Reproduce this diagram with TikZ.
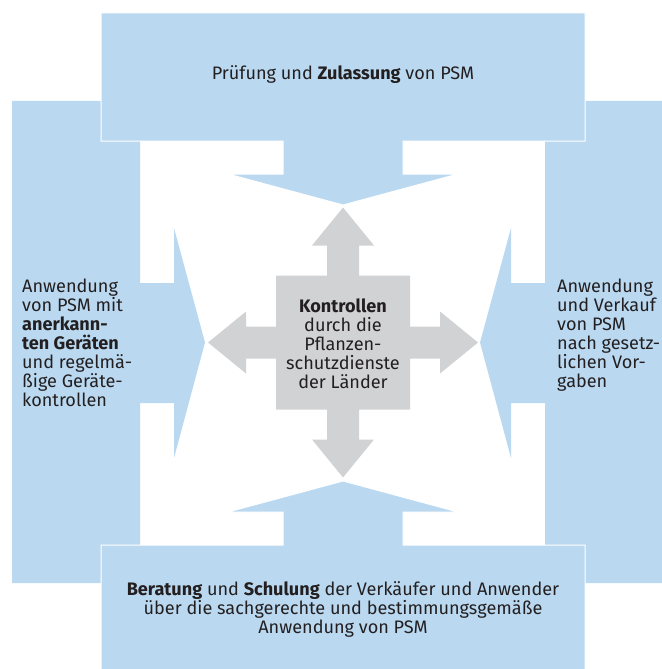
\documentclass[tikz,border=0pt]{standalone}
\usepackage{fontspec}
\setmainfont{Fira Sans}
\definecolor{boxblue}{HTML}{BAD9F1}
\definecolor{crossgray}{HTML}{D1D2D4}
\definecolor{txt}{HTML}{231F20}
\begin{document}
\begin{tikzpicture}[x=1bp,y=-1bp,
  bluebox/.style={fill=boxblue},
  overbox/.style={fill=boxblue,draw=white,line width=1bp},
  lbl/.style={inner sep=0pt,text=txt,font=\fontsize{18.1bp}{19bp}\selectfont}]
\useasboundingbox (0,0) rectangle (662,669);
\clip (0,0) rectangle (662,669);
% left box
\fill[bluebox] (12,101) -- (140,101) -- (140,283) -- (174,283) -- (174,228) -- (205,342.5) -- (174,458) -- (174,403) -- (140,403) -- (140,583) -- (12,583) -- cycle;
% right box
\fill[bluebox] (674,101) -- (545,101) -- (545,283) -- (511,283) -- (511,228) -- (480,342.5) -- (511,458) -- (511,403) -- (545,403) -- (545,583) -- (674,583) -- cycle;
% top box
\filldraw[overbox] (101,13) -- (585,13) -- (585,141) -- (403,141) -- (403,174) -- (458,174) -- (343,205) -- (228,174) -- (283,174) -- (283,141) -- (101,141) -- cycle;
% bottom box
\filldraw[overbox] (101,680) -- (585,680) -- (585,545) -- (403,545) -- (403,512) -- (458,512) -- (343,481) -- (228,512) -- (283,512) -- (283,545) -- (101,545) -- cycle;
% gray cross
\begin{scope}[shift={(343,342.5)}]
\fill[crossgray] (0,-135) -- (31,-97) -- (16,-97) -- (16,-67) -- (67,-67) -- (67,-16) -- (97,-16) -- (97,-31) -- (135,0) -- (97,31) -- (97,16) -- (67,16) -- (67,67) -- (16,67) -- (16,97) -- (31,97) -- (0,135) -- (-31,97) -- (-16,97) -- (-16,67) -- (-67,67) -- (-67,16) -- (-97,16) -- (-97,31) -- (-135,0) -- (-97,-31) -- (-97,-16) -- (-67,-16) -- (-67,-67) -- (-16,-67) -- (-16,-97) -- (-31,-97) -- cycle;
\end{scope}
% texts
\node[lbl,anchor=base] (top) at (343,80) {Prüfung und \textbf{Zulassung} von PSM};
\node[lbl,anchor=west,align=left] (left) at (22,343) {Anwendung\\von PSM mit\\\textbf{anerkann-}\\\textbf{ten Geräten}\\und regelmä-\\ßige Geräte-\\kontrollen};
\node[lbl,anchor=west,align=left] (right) at (557,335.5) {Anwendung\\und Verkauf\\von PSM\\nach gesetz-\\lichen Vor-\\gaben};
\node[lbl,align=center] (center) at (343,343.5) {\textbf{Kontrollen}\\durch die\\Pflanzen-\\schutzdienste\\der Länder};
\node[lbl,align=center] (bottom) at (343,609.5) {\textbf{Beratung} und \textbf{Schulung} der Verkäufer und Anwender\\über die sachgerechte und bestimmungsgemäße\\Anwendung von PSM};
\end{tikzpicture}
\end{document}
